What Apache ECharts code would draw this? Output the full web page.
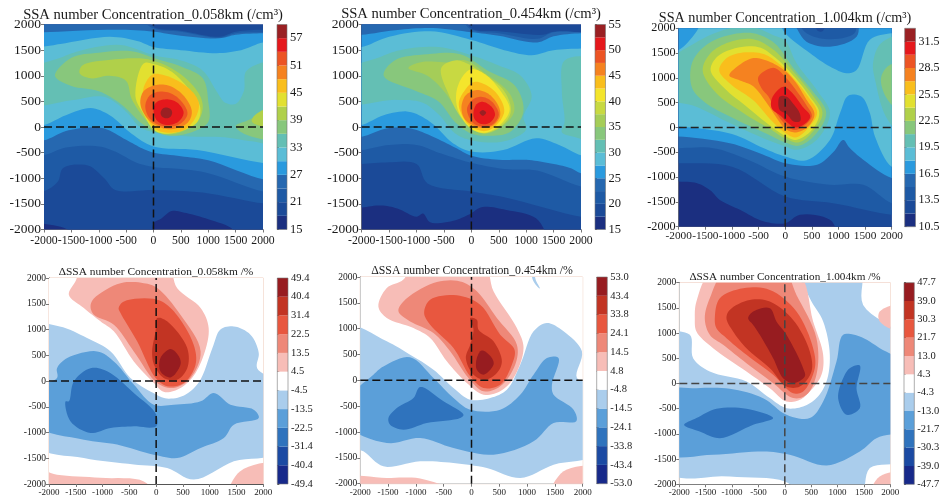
<!DOCTYPE html>
<html><head><meta charset="utf-8">
<style>html,body{margin:0;padding:0;background:#fff}#c{width:943px;height:502px}</style>
<script src="https://cdn.jsdelivr.net/npm/echarts@6/dist/echarts.min.js"></script>
</head><body><div id="c"></div>
<script>
// Colour levels
const ticks1 = [15,18,21,24,27,30,33,36,39,42,45,48,51,54,57,60];
const ticks2 = [15,17.5,20,22.5,25,27.5,30,32.5,35,37.5,40,42.5,45,47.5,50,52.5,55];
const ticks3 = [10.5,12,13.5,15,16.5,18,19.5,21,22.5,24,25.5,27,28.5,30,31.5,33];
const ticks4 = [-49.4,-40.4,-31.4,-22.5,-13.5,-4.5,4.5,13.5,22.5,31.4,40.4,49.4];
const ticks5 = [-53.0,-43.4,-33.8,-24.1,-14.5,-4.8,4.8,14.5,24.1,33.8,43.4,53.0];
const ticks6 = [-47.7,-39.0,-30.3,-21.7,-13.0,-4.3,4.3,13.0,21.7,30.3,39.0,47.7];
const rainbow15 = ['#1b2f80','#1b4a98','#1e5aa5','#2668b0','#2a9ade','#5bbdd6','#64bfb4','#88c77c','#b0d04a','#e2e030','#f9be1c','#f58220','#ec5424','#e5181c','#9a2023'];
const rainbow16 = ['#1b2f80','#1b4a98','#1e5aa5','#2668b0','#2a9ade','#5bbdd6','#64bfb4','#88c77c','#a5cd58','#c8d942','#f4e52c','#f9be1c','#f58220','#ec5424','#e5181c','#9a2023'];
const diverging = ['#17298a','#1b4aa3','#2f73bd','#5b9fd9','#aacdec','#ffffff','#f7bdb7','#ee8878','#e8573f','#c23423','#971c20'];
const titles = ['SSA number Concentration_0.058km (/cm³)','SSA number Concentration_0.454km (/cm³)','SSA number Concentration_1.004km (/cm³)',
  'ΔSSA number Concentration_0.058km /%','ΔSSA number Concentration_0.454km /%','ΔSSA number Concentration_1.004km /%'];
const crossH = [[-2000,0],[2000,0]];
const crossV = [[0,-2000],[0,2000]];

// band region between an upper and a lower contour running left to right
function strip(band, upper, lower){
  const u=[[-2250,upper[0][1]],...upper,[2250,upper[upper.length-1][1]]];
  const l=[[-2250,lower[0][1]],...lower,[2250,lower[lower.length-1][1]]];
  return [band,[...u,...l.reverse()]];
}
// Contours, in the chart's own x / y units
const contours1 = [
 strip(1,[[-2000,2250],[2000,2250]],[[-2000,-1890],[-1550,-2020],[-1450,-2250],[-60,-2250],[0,-1880],[150,-1780],[330,-1640],[600,-1680],[1000,-1800],[1450,-2000],[1550,-2250],[2000,-2250]]),
 strip(2,[[-2000,2250],[-250,2250],[0,1950],[500,1880],[1200,1760],[1500,1860],[2000,1900]],[[-2000,-1250],[-1750,-1070],[-1650,-800],[-1200,-750],[-900,-1000],[-700,-1230],[0,-1230],[900,-1280],[2000,-1490]]),
 strip(3,[[-2000,2250],[-450,2250],[0,1920],[500,1860],[1200,1740],[1500,1830],[2000,1850]],[[-2000,-550],[-1600,-400],[-1000,-380],[-700,-480],[-300,-700],[0,-780],[500,-820],[1000,-900],[2000,-1260]]),
 strip(4,[[-2000,1850],[-700,1900],[0,1860],[500,1780],[1200,1730],[1500,1800],[2000,1830]],[[-2000,-260],[-1600,-80],[-1200,-10],[-900,-30],[-500,-250],[-200,-420],[0,-500],[500,-570],[1000,-650],[2000,-1020]]),
 strip(5,[[-2000,1570],[-1700,1620],[-800,1760],[-300,1680],[0,1560],[500,1500],[1150,1440],[1600,1500],[2000,1650]],[[-2000,40],[-1600,230],[-1150,370],[-800,230],[-400,-130],[0,-380],[800,-450],[2000,-700]]),
 [6,[[-2250,1100],[-1700,1350],[-1300,1500],[-600,1600],[0,1400],[500,1300],[900,1100],[1150,700],[1300,480],[1500,450],[1650,700],[1700,1100],[2250,1250],[2250,-300],[1800,-280],[1300,-200],[600,-180],[0,-100],[-250,0],[-500,300],[-900,590],[-1500,520],[-2250,450]]],
 [7,[[-1800,1000],[-1500,1350],[-1000,1450],[-400,1480],[50,1330],[500,1180],[900,950],[1000,500],[1000,100],[700,-100],[300,-170],[0,-80],[-250,100],[-600,450],[-1000,700],[-1500,800]]],
 [7,[[2250,-220],[1650,-130],[1500,20],[1700,120],[1850,200],[2250,480]]],
 [8,[[2250,400],[1850,230],[1800,100],[2250,0]]],
 [8,[[-1350,1050],[-1300,1200],[-700,1320],[-100,1320],[400,1100],[800,700],[900,400],[800,100],[400,-130],[100,-100],[-150,150],[-400,550],[-500,900],[-800,1000],[-1150,950]]],
 [9,[[-330,600],[-180,1240],[0,1230],[300,1100],[600,800],[850,400],[800,100],[500,-80],[200,-130],[0,-50],[-180,250]]],
 [10,[[-200,600],[-150,850],[0,1030],[350,950],[700,700],[830,450],[750,150],[550,-60],[250,-110],[50,-50],[-120,180]]],
 [11,[[-240,450],[-180,700],[50,820],[300,800],[560,600],[700,300],[620,80],[350,-40],[130,-10],[-100,150]]],
 [12,[[-150,400],[-80,600],[100,690],[350,640],[560,430],[620,250],[500,70],[300,10],[100,40],[-80,180]]],
 [13,[[0,350],[50,480],[230,540],[430,480],[550,280],[450,100],[230,40],[60,130]]],
 [14,[[130,280],[170,360],[240,380],[320,340],[340,270],[300,190],[220,170],[150,210]]]
];
const contours2 = [
 strip(1,[[-2000,2250],[2000,2250]],[[-2000,-1570],[-1650,-1530],[-1350,-1590],[-1000,-1750],[-880,-1690],[-750,-1860],[-330,-1830],[-30,-1700],[200,-1560],[640,-1620],[1180,-1780],[1500,-2250],[2000,-2250]]),
 strip(2,[[-2000,2250],[-200,2250],[0,1920],[500,1870],[1300,1800],[1500,1860],[2000,1850]],[[-2000,-720],[-1500,-690],[-1000,-720],[-800,-1100],[0,-1260],[600,-1370],[2000,-1750]]),
 strip(3,[[-2000,2250],[-350,2250],[0,1900],[500,1830],[1200,1720],[1500,1850],[2000,1850]],[[-2000,-450],[-1500,-350],[-1000,-350],[-600,-500],[-200,-640],[0,-700],[600,-820],[1200,-850],[2000,-1160]]),
 strip(4,[[-2000,1800],[-1300,1900],[-700,1930],[0,1850],[500,1780],[1200,1650],[1500,1770],[2000,1830]],[[-2000,-190],[-1550,-30],[-1100,-30],[-700,-190],[-300,-400],[0,-560],[500,-640],[1000,-640],[1400,-700],[1800,-800],[2000,-900]]),
 strip(5,[[-2000,1560],[-1500,1760],[-750,1870],[0,1700],[600,1500],[1100,1400],[1500,1500],[2000,1530]],[[-2000,40],[-1600,230],[-1150,300],[-750,100],[-330,-320],[0,-480],[580,-450],[1180,-220],[1600,-350],[2000,-550]]),
 [6,[[-2250,1100],[-1700,1350],[-1300,1500],[-600,1560],[0,1400],[500,1200],[900,1000],[1100,600],[950,200],[1000,-50],[600,-280],[0,-260],[-300,-120],[-600,250],[-900,480],[-1400,530],[-2250,480]]],
 [6,[[2250,1300],[1700,1300],[1650,700],[1700,100],[1650,-100],[1900,-200],[2250,-250]]],
 [7,[[-1600,1000],[-1400,1300],[-800,1420],[-200,1420],[300,1100],[800,800],[950,300],[700,-100],[300,-170],[0,-130],[-300,100],[-600,500],[-1000,700]]],
 [8,[[-1150,1150],[-900,1270],[-400,1260],[-100,1300],[250,1050],[700,650],[780,300],[550,0],[250,-130],[50,-60],[-150,150],[-500,700],[-800,1000]]],
 [9,[[-550,1150],[-300,1300],[-100,1250],[200,1050],[600,700],[720,300],[550,20],[250,-120],[0,-40],[-200,200],[-400,600]]],
 [10,[[-270,700],[-150,1000],[0,1130],[250,1030],[520,720],[700,350],[560,80],[300,-100],[100,-90],[-80,50],[-250,350]]],
 [11,[[-230,450],[-130,700],[50,880],[300,800],[500,600],[600,300],[450,30],[250,-80],[60,-30],[-100,100]]],
 [12,[[-180,400],[-100,620],[100,720],[320,640],[500,400],[520,200],[380,20],[200,-20],[30,30],[-130,170]]],
 [13,[[-80,350],[20,530],[180,590],[370,500],[500,250],[400,60],[200,10],[30,80]]],
 [14,[[40,300],[100,450],[220,490],[380,380],[430,230],[330,80],[180,60],[60,150]]],
 [15,[[150,280],[210,330],[270,280],[210,220]]]
];
const contours3 = [
 strip(1,[[-2000,2250],[2000,2250]],[[-2000,-1090],[-1665,-1120],[-1415,-1260],[-1227,-1460],[-850,-1660],[-413,-1890],[0,-1930],[275,-1760],[840,-1860],[1090,-2250],[2000,-2250]]),
 strip(2,[[-2000,2250],[2000,2250]],[[-2000,-720],[-1000,-790],[0,-1390],[900,-1525],[2000,-1760]]),
 strip(3,[[-2000,2250],[100,2250],[400,1900],[800,1780],[1300,1900],[1380,2250],[2000,2250]],[[-2000,-416],[-1350,-416],[-700,-650],[0,-990],[840,-1155],[1465,-1155],[2000,-1525]]),
 strip(4,[[-2000,2250],[0,2250],[400,1730],[840,1630],[1340,1830],[1430,2250],[2000,2250]],[[-2000,-180],[-1040,-316],[-410,-550],[0,-720],[600,-750],[900,-500],[1090,-250],[1200,-400],[1465,-650],[2000,-1020]]),
 strip(5,[[-2000,1565],[-1665,1935],[-1500,2250],[-200,2250],[0,1900],[463,1500],[840,1230],[1150,1095],[1340,1160],[1590,1770],[2000,1900]],[[-2000,20],[-1000,-130],[-400,-420],[0,-585],[400,-660],[840,-250],[1030,290],[1183,640],[1430,625],[1590,290],[1685,-180],[2000,-790]]),
 [6,[[-2250,1250],[-1700,1700],[-1200,1950],[-700,2050],[-200,1850],[0,1750],[210,1300],[590,760],[840,290],[590,-250],[210,-450],[0,-380],[-410,-215],[-1040,90],[-1670,420],[-2250,625]]],
 [6,[[2250,1850],[1800,1700],[1650,1300],[1700,900],[1900,200],[2250,-200]]],
 [7,[[2250,1300],[1950,1250],[1800,1000],[1900,600],[2250,250]]],
 [7,[[-1750,1300],[-1500,1650],[-1100,1850],[-600,1900],[-200,1700],[150,1200],[500,750],[770,300],[560,-150],[250,-370],[0,-300],[-400,-100],[-1000,200],[-1500,500],[-1750,800]]],
 [8,[[-1550,1150],[-1400,1500],[-1050,1720],[-600,1780],[-200,1550],[150,1130],[480,700],[700,300],[530,-70],[250,-300],[0,-220],[-300,-20],[-800,300],[-1300,700]]],
 [9,[[-1400,1150],[-1300,1400],[-1000,1580],[-500,1620],[-200,1420],[150,1050],[450,640],[640,300],[500,-50],[200,-250],[0,-170],[-300,50],[-700,400],[-1150,800]]],
 [10,[[-1240,1150],[-1100,1400],[-800,1510],[-400,1480],[-100,1270],[150,1000],[430,620],[600,300],[440,0],[200,-200],[0,-110],[-250,130],[-600,550],[-1000,850]]],
 [11,[[-1050,1050],[-900,1230],[-600,1400],[-350,1350],[-50,1180],[170,950],[400,560],[550,270],[430,20],[200,-100],[20,-40],[-100,100],[-350,500],[-600,830],[-850,950]]],
 [12,[[-510,1000],[-400,1130],[-200,1200],[0,1020],[170,800],[400,450],[500,230],[350,30],[180,-50],[30,30],[-170,300],[-300,600],[-450,800]]],
 [13,[[-260,550],[-170,720],[-30,820],[130,700],[320,430],[470,220],[350,60],[180,0],[40,100],[-80,230],[-250,380]]],
 [14,[[-130,480],[-100,625],[30,620],[150,480],[275,280],[280,130],[160,120],[30,270],[-100,350]]],
 [1,[[590,2250],[600,1960],[700,1940],[780,2250]]]
];
const contours4 = [
 [4,[[-2250,1060],[-1800,1060],[-1290,835],[-850,575],[-480,58],[-60,-230],[200,-340],[520,-280],[800,-20],[1050,640],[1200,1000],[1450,1060],[1760,900],[1915,545],[1885,250],[2250,-70],[2250,-1370],[1450,-1560],[700,-1915],[205,-1690],[-417,-1620],[-1350,-1495],[-2250,-1235]]],
 [3,[[-2250,-170],[-1850,60],[-1850,250],[-1660,446],[-1100,575],[-790,380],[-417,-70],[-45,-460],[330,-460],[830,-395],[1076,-233],[1387,-460],[1820,-556],[1915,-718],[1450,-848],[1263,-1106],[830,-1300],[392,-1495],[-45,-1430],[-730,-1235],[-1350,-1140],[-2250,-850]]],
 [2,[[-1630,-395],[-1536,-6],[-1225,250],[-915,190],[-417,-233],[0,-650],[0,-880],[-417,-880],[-850,-912],[-1225,-1010],[-1600,-783],[-1690,-395]]],
 [6,[[-1630,1675],[-1505,1935],[-1350,2250],[205,2250],[390,1805],[830,1417],[980,1030],[890,510],[670,60],[390,-170],[140,-210],[-40,-40],[-417,380],[-790,964],[-1040,1158],[-1350,1417]]],
 [7,[[-1225,1450],[-1163,1600],[-665,1900],[-230,1900],[20,1805],[450,1290],[830,575],[640,60],[330,-135],[20,-40],[-417,575],[-790,1093],[-1163,1287]]],
 [8,[[-700,1417],[-600,1546],[20,1580],[330,1352],[700,705],[735,317],[516,-40],[205,-100],[-10,60],[-355,770],[-665,1320]]],
 [9,[[20,1223],[205,1158],[580,640],[580,250],[390,25],[140,60],[-40,317],[-75,575],[-12,964]]],
 [10,[[80,446],[267,620],[423,480],[454,317],[267,70],[80,188]]],
 [6,[[-2250,-1720],[-1850,-1820],[-1040,-1880],[-230,-1950],[0,-2250],[-2250,-2250]]],
 [6,[[1355,-2250],[1570,-1750],[2250,-1620],[2250,-2250]]]
];
const contours5 = [
 [4,[[-2250,1045],[-1524,755],[-1104,497],[-684,206],[-324,-148],[-24,-374],[336,-342],[636,-180],[876,303],[1116,948],[1356,1110],[1656,948],[1986,561],[1896,45],[2250,-116],[2250,-1406],[1476,-1632],[876,-1890],[276,-1696],[-324,-1600],[-924,-1567],[-1584,-1664],[-1944,-1374],[-2250,-1245]]],
 [4,[[1086,2150],[1100,1950],[1206,1790],[1230,1780],[1150,1960],[1130,2250]]],
 [3,[[-2250,-406],[-1764,110],[-1584,270],[-1104,445],[-684,45],[-324,-342],[-24,-568],[516,-568],[876,-277],[1116,110],[1356,432],[1566,432],[1446,-84],[1476,-277],[1836,-568],[1884,-793],[1476,-826],[1116,-1180],[396,-1438],[-324,-1309],[-924,-1116],[-1524,-1213],[-2250,-858]]],
 [2,[[-1494,-729],[-1344,-535],[-1044,-342],[-924,-129],[-504,-406],[-144,-664],[-204,-729],[-804,-826],[-1224,-955],[-1464,-858]]],
 [6,[[-1675,1430],[-1524,1786],[-1224,1950],[-1044,2250],[216,2250],[396,1722],[816,1012],[936,625],[756,45],[516,-210],[216,-277],[-84,-50],[-444,368],[-744,820],[-1044,1012],[-1524,1206]]],
 [7,[[-1314,1335],[-1224,1528],[-684,1883],[-204,1915],[96,1722],[456,1206],[816,690],[786,303],[516,-116],[216,-213],[-54,45],[-384,561],[-684,916],[-1104,1141]]],
 [8,[[-852,1303],[-744,1561],[-264,1645],[156,1464],[516,884],[774,593],[726,303],[516,-84],[216,-148],[-24,77],[-324,625],[-744,1077]]],
 [9,[[-24,1206],[96,1174],[126,980],[396,755],[546,368],[456,142],[246,13],[36,110],[-102,432],[-24,690],[36,980]]],
 [10,[[96,432],[186,580],[366,432],[396,303],[216,110],[96,206]]],
 [6,[[-2250,-1890],[-1524,-1890],[-924,-1900],[-84,-2250],[-2250,-2250]]],
 [6,[[1416,-2250],[1656,-1760],[2250,-1696],[2250,-2250]]]
];
const contours6 = [
 [4,[[-2250,965],[-1800,965],[-1738,502],[-1422,238],[-727,40],[-284,-290],[32,-489],[348,-456],[600,-290],[790,40],[853,568],[727,1230],[474,1692],[284,2250],[1422,2250],[1485,1560],[2250,833],[2250,-1494],[1612,-1679],[1422,-2250],[410,-2250],[0,-1943],[-1043,-1844],[-2250,-1745]]],
 [3,[[-2250,-159],[-1675,-93],[-1043,-106],[-411,-291],[32,-621],[474,-687],[727,-357],[980,436],[1106,965],[1422,932],[1801,700],[2250,370],[2250,-886],[1738,-1084],[1422,-1348],[790,-1626],[95,-1414],[-411,-1348],[-1359,-1414],[-2250,-1381]]],
 [2,[[-1909,-820],[-1675,-687],[-1296,-502],[-727,-502],[-221,-687],[-600,-820],[-1232,-1084],[-1612,-952]]],
 [2,[[1232,304],[1422,357],[1359,-93],[1422,-489],[1169,-621],[1011,-291],[1106,106]]],
 [6,[[-1706,1295],[-1675,1626],[-1359,2250],[221,2250],[537,1230],[727,568],[695,172],[474,-159],[284,-324],[30,-357],[-284,-93],[-727,238],[-1359,700],[-1675,1031]]],
 [7,[[-1517,1295],[-1422,1692],[-1106,2250],[-30,2250],[221,1758],[600,900],[600,172],[410,-225],[158,-290],[-221,7],[-727,403],[-1169,767],[-1422,965]]],
 [8,[[-1327,1295],[-1232,1692],[-790,1890],[-284,1857],[221,1428],[537,700],[569,304],[348,-159],[158,-192],[-221,172],[-727,568],[-1106,899],[-1296,1097]]],
 [9,[[-1106,1295],[-1043,1460],[-664,1659],[-284,1626],[158,1262],[474,634],[505,238],[284,-60],[32,-60],[-284,304],[-727,700],[-980,1031]]],
 [10,[[-695,1295],[-600,1428],[-284,1494],[-158,1230],[32,965],[348,304],[379,139],[158,7],[-32,106],[-221,502],[-474,965],[-600,1163]]],
 [6,[[2250,1560],[1800,1428],[1800,1230],[2250,1031]]],
 [6,[[1612,-2250],[1800,-1845],[2250,-1778],[2250,-2250]]]
];

// Layout: plot rect [x0,y0,x1,y1], colour-bar x range, title centre, font sizes
const layout = [
 {p:[44,24.5,263,229.5],c:[277,287],t:[153,15],ts:14.6,xs:11.7,ys:13.5,cs:12.5,xm:5,frame:false,cross:'#111'},
 {p:[361.7,24.5,581,229.5],c:[595,605.5],t:[471,14.5],ts:14.6,xs:11.7,ys:13.5,cs:12.5,xm:5,frame:false,cross:'#111'},
 {p:[678.7,28.3,891.7,226.7],c:[904.7,915.5],t:[785,18],ts:14.2,xs:11.3,ys:12.2,cs:12,xm:4,frame:false,cross:'#222'},
 {p:[49,278,263.3,484],c:[277.3,288],t:[156,272],ts:11.4,xs:9,ys:9.5,cs:10.5,xm:4,frame:true,cross:'#111'},
 {p:[360.3,277,582.7,483.7],c:[596.7,607.3],t:[472,270.5],ts:11.8,xs:9,ys:9.5,cs:10.5,xm:4,frame:true,cross:'#111'},
 {p:[679.3,282.7,890.3,484.3],c:[904,914.3],t:[785,277],ts:11.2,xs:9,ys:9.5,cs:10.5,xm:4,frame:true,cross:'#444'}
];
const panels = [
 {contours:contours1,ticks:ticks1,colors:rainbow15,base:rainbow15[0],every:2},
 {contours:contours2,ticks:ticks2,colors:rainbow16,base:rainbow16[0],every:2},
 {contours:contours3,ticks:ticks3,colors:rainbow15,base:rainbow15[0],every:2},
 {contours:contours4,ticks:ticks4,colors:diverging,base:'#ffffff',every:1},
 {contours:contours5,ticks:ticks5,colors:diverging,base:'#ffffff',every:1},
 {contours:contours6,ticks:ticks6,colors:diverging,base:'#ffffff',every:1}
];
// smooth closed curve through a contour's pixel points (centripetal Catmull-Rom)
function curve(pts){
  const n=pts.length,out=[];
  for(let i=0;i<n;i++){
    const p0=pts[(i-1+n)%n],p1=pts[i],p2=pts[(i+1)%n],p3=pts[(i+2)%n];
    const d=(a,b)=>Math.max(1e-3,Math.sqrt(Math.hypot(a[0]-b[0],a[1]-b[1])));
    const t1=d(p0,p1),t2=t1+d(p1,p2),t3=t2+d(p2,p3);
    for(let s=0;s<8;s++){
      const t=t1+(t2-t1)*s/8,q=[0,0];
      for(const j of [0,1]){
        const A1=(t1-t)/t1*p0[j]+t/t1*p1[j];
        const A2=(t2-t)/(t2-t1)*p1[j]+(t-t1)/(t2-t1)*p2[j];
        const A3=(t3-t)/(t3-t2)*p2[j]+(t-t2)/(t3-t2)*p3[j];
        const B1=(t2-t)/t2*A1+t/t2*A2;
        const B2=(t3-t)/(t3-t1)*A2+(t-t1)/(t3-t1)*A3;
        q[j]=(t2-t)/(t2-t1)*B1+(t-t1)/(t2-t1)*B2;
      }
      out.push(q);
    }
  }
  return out;
}
const FONT='"Liberation Serif","Times New Roman",serif', W=943, H=502;
const grid=[],xAxis=[],yAxis=[],series=[],title=[];
panels.forEach((P,i)=>{
  const L=layout[i], [x0,y0,x1,y1]=L.p, g=grid.length;
  const axisLine={show:true,onZero:false,lineStyle:{color:L.frame?'#555':'#777',width:1}};
  grid.push({left:x0,top:y0,width:x1-x0,height:y1-y0,show:L.frame,borderColor:'#efcdbf',borderWidth:1,backgroundColor:'#fff'});
  const lab={fontFamily:FONT,color:'#1a1a1a',formatter:v=>String(v)};
  xAxis.push({gridIndex:g,type:'value',min:-2000,max:2000,interval:500,splitLine:{show:false},axisLine,axisTick:{length:3,lineStyle:{color:'#777'}},axisLabel:{...lab,fontSize:L.xs,margin:L.xm,showMinLabel:true,showMaxLabel:true,hideOverlap:false}});
  yAxis.push({gridIndex:g,type:'value',min:-2000,max:2000,interval:500,splitLine:{show:false},axisLine,axisTick:{length:3,lineStyle:{color:'#777'}},axisLabel:{...lab,fontSize:L.ys,margin:3}});
  series.push({type:'custom',xAxisIndex:g,yAxisIndex:g,z:2,silent:true,coordinateSystem:'cartesian2d',
    data:[[-2000,-2000,-1]].concat(P.contours.map((c,k)=>[0,0,k])),
    renderItem:(params,api)=>{
      const cs=params.coordSys, k=api.value(2);
      const clip={type:'rect',shape:{x:cs.x,y:cs.y,width:cs.width,height:cs.height}};
      if(k<0) return {type:'rect',shape:{x:cs.x,y:cs.y,width:cs.width,height:cs.height},style:{fill:P.base}};
      const c=P.contours[k];
      return {type:'polygon',shape:{points:curve(c[1].map(q=>api.coord(q)))},style:{fill:P.colors[c[0]],stroke:null},clipPath:clip};
    }});
  const dash={color:L.cross,width:1.5,type:[8,4]};
  series.push({type:'line',xAxisIndex:g,yAxisIndex:g,z:5,silent:true,symbol:'none',data:crossH,lineStyle:dash});
  series.push({type:'line',xAxisIndex:g,yAxisIndex:g,z:5,silent:true,symbol:'none',data:crossV,lineStyle:dash});
  // colour bar
  const b=grid.length;
  grid.push({left:L.c[0],top:y0,width:L.c[1]-L.c[0],height:y1-y0,show:false});
  xAxis.push({gridIndex:b,type:'value',min:0,max:1,show:false});
  const shown=idx=>idx%P.every===0;
  yAxis.push({gridIndex:b,type:'category',position:'right',boundaryGap:false,data:P.ticks.map(t=>i>2?t.toFixed(1):String(t)),
    axisLine:{show:false},axisTick:{show:true,alignWithLabel:true,interval:shown,length:2,lineStyle:{color:'#555'}},
    axisLabel:{interval:shown,fontFamily:FONT,fontSize:L.cs,color:'#1a1a1a',margin:3,showMinLabel:true,showMaxLabel:true},splitLine:{show:false}});
  series.push({type:'custom',xAxisIndex:b,yAxisIndex:b,z:2,silent:true,coordinateSystem:'cartesian2d',
    data:P.colors.map((c,k)=>[0,k]).concat([[0,-1]]),
    renderItem:(params,api)=>{
      const k=api.value(1);
      if(k<0){ const cs=params.coordSys; return {type:'rect',shape:{x:cs.x,y:cs.y,width:cs.width,height:cs.height},style:{fill:null,stroke:'#777',lineWidth:0.6}}; }
      const a=api.coord([0,k]), d=api.coord([1,k+1]);
      return {type:'rect',shape:{x:a[0],y:d[1],width:d[0]-a[0],height:a[1]-d[1]},style:{fill:P.colors[k]}};
    }});
  title.push({text:titles[i],left:L.t[0],top:L.t[1],textAlign:'center',textVerticalAlign:'middle',padding:0,
    textStyle:{fontFamily:FONT,fontSize:L.ts,fontWeight:'normal',color:'#1a1a1a'}});
});
const chart=echarts.init(document.getElementById('c'),null,{renderer:'canvas',width:W,height:H});
chart.setOption({animation:false,backgroundColor:'#fff',title,grid,xAxis,yAxis,series});
</script></body></html>
